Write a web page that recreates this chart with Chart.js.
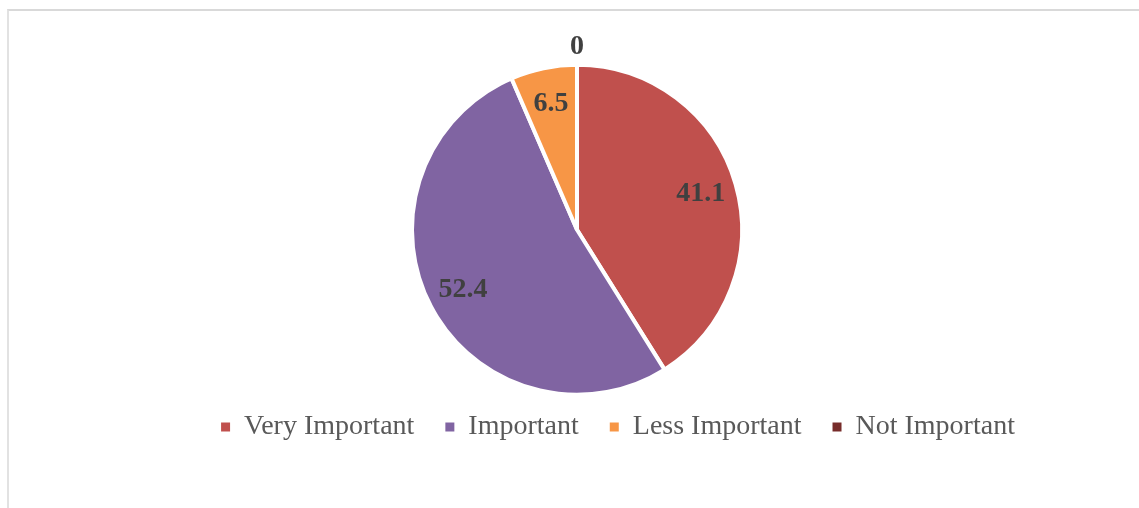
<!DOCTYPE html>
<html>
<head>
<meta charset="utf-8">
<script src="https://cdn.jsdelivr.net/npm/chart.js@4/dist/chart.umd.min.js"></script>
<style>
  html, body { margin: 0; padding: 0; background: #fff; overflow: hidden; width: 1139px; height: 508px; }
  #frame { position: absolute; left: 7px; top: 9px; width: 1300px; height: 600px;
           border-top: 2px solid #d9d9d9; border-left: 2px solid #e2e2e2; box-sizing: border-box; }
  #c { position: absolute; left: 0; top: 0; }
</style>
</head>
<body>
<div id="frame"></div>
<canvas id="c" width="1236" height="508"></canvas>
<script>
const categories = ["Very Important", "Important", "Less Important", "Not Important"];
const values = [41.1, 52.4, 6.5, 0];
const sliceColors = ["#C0504D", "#8064A2", "#F79646", "#772C2A"];

const SERIF = "'Liberation Serif', 'Times New Roman', serif";

// shift the pie horizontally relative to the centred legend
const shiftPie = {
  id: 'shiftPie',
  afterLayout(chart, args, opts) {
    chart.chartArea.left += opts.dx;
    chart.chartArea.right += opts.dx;
  }
};

const pieLabels = {
  id: 'pieLabels',
  afterDatasetsDraw(chart, args, opts) {
    const ctx = chart.ctx;
    const meta = chart.getDatasetMeta(0);
    const ds = chart.data.datasets[0];
    ctx.save();
    ctx.font = "bold 28px " + SERIF;
    ctx.fillStyle = "#404040";
    ctx.textAlign = "center";
    ctx.textBaseline = "middle";
    meta.data.forEach((arc, i) => {
      const p = arc.getProps(['x', 'y', 'startAngle', 'endAngle', 'outerRadius'], true);
      const mid = (p.startAngle + p.endAngle) / 2;
      const v = ds.data[i];
      const visR = p.outerRadius - opts.border / 2;
      const r = v === 0 ? visR + opts.outside : visR * opts.inside;
      ctx.fillText(String(v), p.x + Math.cos(mid) * r, p.y + Math.sin(mid) * r);
    });
    ctx.restore();
  }
};

new Chart(document.getElementById('c'), {
  type: 'pie',
  data: {
    labels: categories,
    datasets: [{
      data: values,
      backgroundColor: sliceColors,
      borderColor: "#ffffff",
      borderWidth: 4,
      radius: 165
    }]
  },
  options: {
    responsive: false,
    animation: false,
    events: [],
    layout: { padding: { top: 77.5, bottom: 57, left: 0, right: 0 } },
    plugins: {
      shiftPie: { dx: -41 },
      pieLabels: { border: 4, inside: 0.79, outside: 20 },
      tooltip: { enabled: false },
      legend: {
        position: 'bottom',
        labels: {
          boxWidth: 9,
          boxHeight: 9,
          padding: 31,
          color: "#595959",
          font: { family: SERIF, size: 28 },
          generateLabels(chart) {
            const ds = chart.data.datasets[0];
            return chart.data.labels.map((t, i) => ({
              text: t,
              fillStyle: ds.backgroundColor[i],
              strokeStyle: ds.backgroundColor[i],
              lineWidth: 0,
              fontColor: "#595959",
              hidden: false,
              index: i
            }));
          }
        }
      }
    }
  },
  plugins: [shiftPie, pieLabels]
});
</script>
</body>
</html>
